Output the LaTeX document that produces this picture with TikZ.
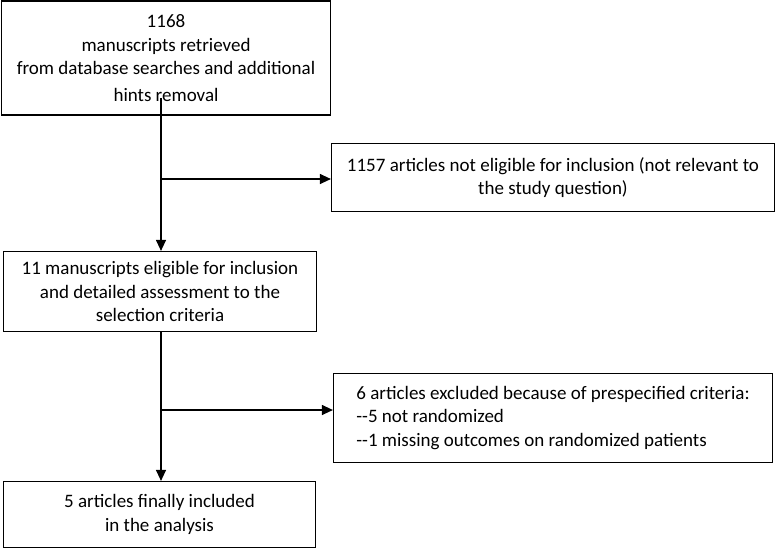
\documentclass[tikz,border=0pt]{standalone}
\usepackage{fontspec}
\setmainfont{Carlito}
\usetikzlibrary{arrows.meta}

\begin{document}
\begin{tikzpicture}[x=1pt,y=-1pt,
    box/.style ={rectangle, draw, line width=1.2pt, inner sep=0pt, align=center,
                 font=\fontsize{19}{23.5}\selectfont},
    arr/.style ={line width=1.2pt, -{Triangle[length=11pt,width=10pt]}}]
   \useasboundingbox (0,0) rectangle (776,550);

   \node[box, minimum width=329pt, minimum height=114pt] (retr) at (166,58)
      {1168\\manuscripts retrieved\\from database searches and additional\\[3pt]hints removal};
   \node[box, minimum width=443pt, minimum height=68pt] (excl) at (553,177.5)
      {1157 articles not eligible for inclusion (not relevant to\\the study question)};
   \node[box, minimum width=313pt, minimum height=80pt] (elig) at (160,291.5)
      {11 manuscripts eligible for inclusion\\and detailed assessment to the\\selection criteria};
   \node[box, align=left, minimum width=439pt, minimum height=89pt] (crit) at (553,418)
      {6 articles excluded because of prespecified criteria:\\-{}-5 not randomized\\-{}-1 missing outcomes on randomized patients};
   \node[box, minimum width=312pt, minimum height=66pt] (final) at (159.5,514.5)
      {5 articles finally included\\in the analysis};

   \coordinate (s) at (161,98);
   \coordinate (b1) at (161,179);
   \coordinate (b2) at (161,410);

   \draw[arr] (s) -- (s |- elig.north);
   \draw[arr] (b1) -- (b1 -| excl.west);

   \draw[arr] (s |- elig.south) -- (s |- final.north);
   \draw[arr] (b2) -- (b2 -| crit.west);
\end{tikzpicture}
\end{document}
